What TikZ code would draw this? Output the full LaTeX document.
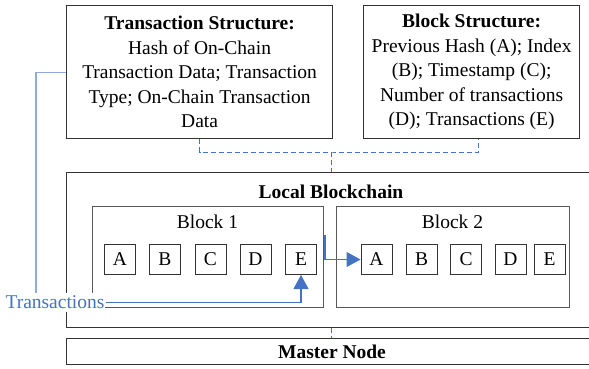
\documentclass[tikz,border=0pt]{standalone}
\usepackage{fontspec}
\setmainfont{Liberation Serif}
\usetikzlibrary{arrows.meta,calc}
\definecolor{bord}{HTML}{333333}
\definecolor{blkbord}{HTML}{595959}
\definecolor{myblue}{HTML}{4472C4}
\definecolor{lightblue}{HTML}{8FAADC}
\tikzset{
  bigbox/.style={draw=bord, line width=1.2pt, anchor=north west, inner sep=0pt, align=center,
    font=\fontsize{19.5}{24.5}\selectfont},
  blockbox/.style={draw=blkbord, line width=1.2pt, anchor=north west, inner sep=0pt},
  letter/.style={draw=bord, line width=1pt, minimum width=31pt, minimum height=30pt, inner sep=0pt,
    anchor=north west, font=\fontsize{19.5}{22}\selectfont},
  lbl/.style={font=\fontsize{19.5}{22}\selectfont, inner sep=0pt},
  dashblue/.style={draw=myblue, line width=1pt, dash pattern=on 5pt off 3pt},
  bluearrow/.style={draw=myblue, line width=1.1pt, -{Triangle[width=15pt,length=14pt,fill=myblue]}},
}
\begin{document}
\begin{tikzpicture}[x=1pt,y=-1pt]
\useasboundingbox (0,0) rectangle (589,368);
\clip (0,0) rectangle (589,368);
% top boxes
\node[bigbox, minimum width=266pt, minimum height=133pt] (ts) at (66,5)
  {\textbf{Transaction Structure:}\\Hash of On-Chain\\Transaction Data; Transaction\\Type; On-Chain Transaction\\Data};
\node[bigbox, minimum width=216pt, minimum height=133pt] (bs) at (363,5)
  {\textbf{Block Structure:}\\Previous Hash (A); Index\\(B); Timestamp (C);\\Number of transactions\\(D); Transactions (E)};
% local blockchain and master node
\node[bigbox, minimum width=540pt, minimum height=155pt] (lb) at (66,172) {};
\node[lbl, font=\fontsize{19.5}{22}\selectfont\bfseries] (lbt) at (331,192) {Local Blockchain};
\node[bigbox, minimum width=540pt, minimum height=26pt] (mn) at (66,338) {};
\node[lbl, font=\fontsize{19.5}{22}\selectfont\bfseries] (mnt) at (332,352) {Master Node};
% blocks
\node[blockbox, minimum width=231pt, minimum height=101pt] (b1) at (92,206) {};
\node[blockbox, minimum width=233pt, minimum height=101pt] (b2) at (336,206) {};
\node[lbl] (b1t) at (207.5,222) {Block 1};
\node[lbl] (b2t) at (452.5,222) {Block 2};
% letters block 1
\node[letter] (b1a) at (104,244) {A};
\node[letter] (b1b) at (149,244) {B};
\node[letter] (b1c) at (194.5,244) {C};
\node[letter] (b1d) at (239.5,244) {D};
\node[letter] (b1e) at (285,244) {E};
% letters block 2
\node[letter] (b2a) at (360.5,244) {A};
\node[letter] (b2b) at (405.5,244) {B};
\node[letter] (b2c) at (450,244) {C};
\node[letter] (b2d) at (494.5,244) {D};
\node[letter] (b2e) at (533.5,244) {E};
% transactions label
\node[lbl, fill=white, inner xsep=1pt, inner ysep=3pt, text=myblue] (tr) at (55,302.5) {Transactions};
% dashed connectors
\coordinate (j) at (331,152);
\draw[dashblue] (ts.south) |- (j) -| ([xshift=7pt]bs.south);
\draw[dashblue] (j) -- (j |- lb.north);
\draw[dashblue] (lb.south -| j) -- (mn.north -| j);
% transactions connectors
\draw[lightblue, line width=1.2pt] (ts.west) -| ([xshift=-19pt]tr.north);
\draw[bluearrow] (tr.east) -| (b1e.south);
\coordinate (s) at ($(b1.east)+(0.8pt,22pt)$);
\draw[bluearrow] (s) |- (b2a.west);
\end{tikzpicture}
\end{document}
